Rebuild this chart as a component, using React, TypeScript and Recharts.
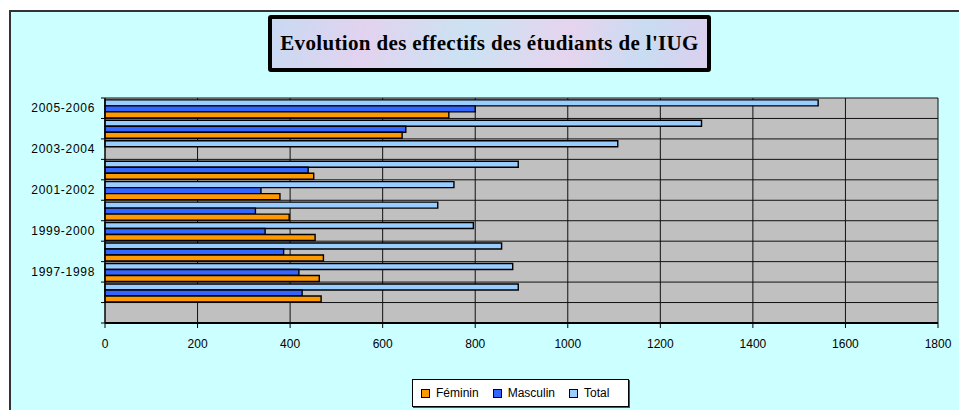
import { BarChart, Bar, XAxis, YAxis, CartesianGrid } from "recharts";

// top to bottom, as the bars appear
const years = [
  "2005-2006",
  "2004-2005",
  "2003-2004",
  "2002-2003",
  "2001-2002",
  "2000-2001",
  "1999-2000",
  "1998-1999",
  "1997-1998",
  "1996-1997",
  "",
];
const feminin = [743, 642, null, 451, 378, 398, 454, 472, 463, 467, null];
const masculin = [800, 650, null, 439, 337, 325, 346, 386, 419, 426, null];
const total = [1541, 1289, 1108, 893, 754, 719, 796, 857, 881, 893, null];
const xTicks = [0, 200, 400, 600, 800, 1000, 1200, 1400, 1600, 1800];

const series = [
  { key: "total", name: "Total", color: "#99ccff" },
  { key: "masculin", name: "Masculin", color: "#3366ff" },
  { key: "feminin", name: "Féminin", color: "#ff9900" },
];
const legendOrder = ["feminin", "masculin", "total"];

const data = years.map((year, i) => ({
  year,
  feminin: feminin[i],
  masculin: masculin[i],
  total: total[i],
}));

const W = 959;
const H = 410;
const margin = { top: 98, right: 21, bottom: 57, left: 0 };
const plotH = H - margin.top - margin.bottom - 30;
const band = plotH / years.length;
const font = "'Liberation Sans', Arial, sans-serif";

const YTick = (props: any) => {
  const { x, y, payload, index } = props;
  const half = band / 2;
  return (
    <g>
      <line x1={x - 4} x2={x} y1={y - half} y2={y - half} stroke="#000" />
      {index === years.length - 1 && (
        <line x1={x - 4} x2={x} y1={y + half} y2={y + half} stroke="#000" />
      )}
      {index % 2 === 0 && (
        <text
          x={x - 10}
          y={y}
          dy={4}
          textAnchor="end"
          fontSize={12}
          fontFamily={font}
          letterSpacing={0.7}
          fill="#000"
        >
          {payload.value}
        </text>
      )}
    </g>
  );
};

const App = () => {
  return (
    <div style={{ position: "absolute", left: 0, top: 0, width: W, height: H, background: "#fff" }}>
      <div
        style={{
          position: "absolute",
          left: 9,
          top: 10,
          width: W - 9,
          height: H - 10,
          background: "#ccffff",
          borderLeft: "2px solid #333",
          borderTop: "2px solid #333",
          boxSizing: "border-box",
        }}
      />
      <div style={{ position: "absolute", left: 0, top: 0 }}>
        <BarChart
          width={W}
          height={H}
          data={data}
          layout="vertical"
          margin={margin}
          barGap={0}
          barCategoryGap="9%"
        >
          <CartesianGrid
            fill="#c0c0c0"
            stroke="#111"
            horizontalCoordinatesGenerator={({ offset }: any) =>
              years.map((_, i) => offset.top + (i * offset.height) / years.length).concat(offset.top + offset.height)
            }
          />
          <XAxis
            type="number"
            domain={[0, 1800]}
            ticks={xTicks}
            interval={0}
            height={30}
            axisLine={{ stroke: "#000", strokeWidth: 2 }}
            tickLine={{ stroke: "#000" }}
            tickSize={5}
            tickMargin={11}
            tick={{ fontSize: 12, fontFamily: font, fill: "#000" }}
          />
          <YAxis
            type="category"
            dataKey="year"
            width={105}
            interval={0}
            axisLine={{ stroke: "#000" }}
            tickLine={false}
            tickSize={0}
            tickMargin={0}
            tick={<YTick />}
          />
          {series.map((s) => (
            <Bar
              key={s.key}
              dataKey={s.key}
              name={s.name}
              fill={s.color}
              stroke="#000"
              strokeWidth={1.4}
              isAnimationActive={false}
            />
          ))}
        </BarChart>
      </div>
      <div
        style={{
          position: "absolute",
          left: 268,
          top: 15,
          width: 443,
          height: 57,
          boxSizing: "border-box",
          border: "4px solid #000",
          borderRadius: 3,
          background:
            "linear-gradient(100deg, #c9d9f2 0%, #e2d3ef 22%, #cbe2f3 45%, #e6d4ee 68%, #c8dcf2 85%, #dccfee 100%)",
          display: "flex",
          alignItems: "center",
          justifyContent: "center",
          fontFamily: "'Liberation Serif', 'Times New Roman', serif",
          fontWeight: "bold",
          fontSize: 21,
          letterSpacing: 0.35,
          color: "#000",
          whiteSpace: "nowrap",
        }}
      >
        Evolution des effectifs des étudiants de l'IUG
      </div>
      <div
        style={{
          position: "absolute",
          left: 412,
          top: 379,
          width: 217,
          height: 28,
          boxSizing: "border-box",
          background: "#fff",
          border: "1px solid #000",
          boxShadow: "1px 1px 0 #555",
          display: "flex",
          alignItems: "center",
          paddingLeft: 8,
          fontFamily: font,
          fontSize: 12,
          color: "#000",
        }}
      >
        {legendOrder.map((k) => {
          const s = series.find((x) => x.key === k)!;
          return (
            <div key={k} style={{ display: "flex", alignItems: "center", marginRight: 14 }}>
              <span
                style={{
                  display: "inline-block",
                  width: 7,
                  height: 7,
                  background: s.color,
                  border: "1.5px solid #000",
                  marginRight: 6,
                }}
              />
              <span>{s.name}</span>
            </div>
          );
        })}
      </div>
    </div>
  );
};

export default App;
